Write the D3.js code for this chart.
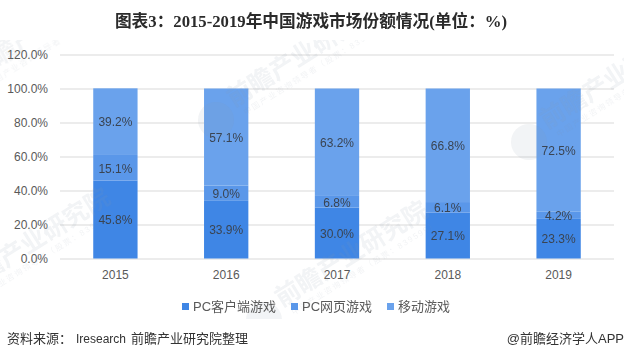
<!DOCTYPE html>
<html>
<head>
<meta charset="utf-8">
<script src="https://cdn.jsdelivr.net/npm/d3@7"></script>
<style>
  html, body { margin: 0; padding: 0; background: #fff; }
  text { font-family: "Liberation Sans", "Noto Sans CJK SC", sans-serif; }
</style>
</head>
<body>
<div id="d3"></div>
<script>
const years = ["2015", "2016", "2017", "2018", "2019"];
const client = [45.8, 33.9, 30.0, 27.1, 23.3];
const web = [15.1, 9.0, 6.8, 6.1, 4.2];
const mobile = [39.2, 57.1, 63.2, 66.8, 72.5];
const seriesNames = ["PC客户端游戏", "PC网页游戏", "移动游戏"];
const yTicks = [0, 20, 40, 60, 80, 100, 120];

const colors = ["#3f86e5", "#5a97e9", "#6aa2ec"];
const labelColor = "#595959";

const W = 624, H = 358;
const svg = d3.select("#d3").append("svg")
  .attr("width", W).attr("height", H)
  .style("display", "block");

const x = d3.scaleBand().domain(years).range([60, 614])
  .paddingInner(0.6).paddingOuter(0.3);
const y = d3.scaleLinear().domain([0, 120]).range([258.5, 54.5]);

// gridlines + y labels
const yAxis = svg.append("g")
  .attr("transform", "translate(60,0)")
  .call(d3.axisLeft(y).tickValues(yTicks).tickSize(0).tickPadding(12)
    .tickFormat(d => d.toFixed(1) + "%"));
yAxis.select(".domain").remove();
yAxis.selectAll("text").attr("font-size", 12).attr("fill", labelColor);
yAxis.selectAll(".tick line")
  .attr("x2", 554).attr("stroke", "#d9d9d9").attr("stroke-width", 1);

// x labels
const xAxis = svg.append("g")
  .attr("transform", "translate(0,258.5)")
  .call(d3.axisBottom(x).tickSize(0).tickPadding(12));
xAxis.select(".domain").remove();
xAxis.selectAll("text").attr("font-size", 12).attr("fill", labelColor);

// stacked bars
const rows = years.map((year, i) => ({ year, a: client[i], b: web[i], c: mobile[i] }));
const stacked = d3.stack().keys(["a", "b", "c"])(rows);

svg.append("g").selectAll("g")
  .data(stacked)
  .join("g")
  .attr("fill", (d, i) => colors[i])
  .selectAll("rect")
  .data(d => d)
  .join("rect")
  .attr("x", d => x(d.data.year))
  .attr("y", d => y(d[1]))
  .attr("width", x.bandwidth())
  .attr("height", d => y(d[0]) - y(d[1]));

// watermarks, cut off above the title area and below the legend like the source image
svg.append("clipPath").attr("id", "wm-clip")
  .append("rect").attr("x", 0).attr("y", 40).attr("width", W).attr("height", 279);

// position of the first big character of each stamp
const marks = [
  { cx: 240, cy: 93 },
  { cx: 288, cy: 293 },
  { cx: 553, cy: 115 },
  { cx: -30, cy: 280 },
  { cx: -17, cy: 65 }
];
const wm = svg.append("g").attr("clip-path", "url(#wm-clip)")
  .attr("fill", "#8a97a8").attr("opacity", 0.11);
marks.forEach(m => {
  wm.append("circle").attr("cx", m.cx - 24).attr("cy", m.cy + 27).attr("r", 18);
  const g = wm.append("g").attr("transform", `translate(${m.cx},${m.cy}) rotate(-32)`);
  g.append("text")
    .attr("x", -13).attr("dy", "0.36em")
    .attr("font-size", 25).attr("font-weight", 700)
    .text("前瞻产业研究院");
  g.append("text")
    .attr("x", -7).attr("y", 22)
    .attr("font-size", 8).attr("letter-spacing", 1.6)
    .text("中国产业咨询领导者（股票：839599）");
});

// value labels on top of the watermark
svg.append("g").selectAll("g")
  .data(stacked)
  .join("g")
  .selectAll("text")
  .data(d => d.map(v => ({ v, val: v[1] - v[0] })))
  .join("text")
  .attr("x", d => x(d.v.data.year) + x.bandwidth() / 2)
  .attr("y", d => y((d.v[0] + d.v[1]) / 2))
  .attr("dy", "0.4em")
  .attr("text-anchor", "middle")
  .attr("font-size", 12)
  .attr("fill", "#3a4452")
  .text(d => d.val.toFixed(1) + "%");

// legend
const legendX = [182, 291, 387];
const legend = svg.append("g").selectAll("g")
  .data(seriesNames)
  .join("g")
  .attr("transform", (d, i) => `translate(${legendX[i]},306.5)`);
legend.append("rect")
  .attr("y", -3.5).attr("width", 7).attr("height", 7)
  .attr("fill", (d, i) => colors[i]);
legend.append("text")
  .attr("x", 11).attr("dy", "0.36em")
  .attr("font-size", 13).attr("fill", labelColor)
  .text(d => d);

// title and footer
svg.append("text")
  .attr("x", 311).attr("y", 27)
  .attr("text-anchor", "middle")
  .attr("font-size", 16.7).attr("font-weight", 700)
  .attr("fill", "#2b2b2b")
  .style("font-family", '"Liberation Serif", "Noto Sans CJK SC", serif')
  .text("图表3：2015-2019年中国游戏市场份额情况(单位：%)");

const source = svg.append("text")
  .attr("y", 343)
  .attr("font-size", 13).attr("fill", "#333");
source.append("tspan").attr("x", 7).text("资料来源：");
source.append("tspan").attr("x", 76).attr("font-size", 12).text("Iresearch");
source.append("tspan").attr("x", 131).text("前瞻产业研究院整理");

svg.append("text")
  .attr("x", 624).attr("y", 343)
  .attr("text-anchor", "end")
  .attr("font-size", 13).attr("fill", "#333")
  .text("@前瞻经济学人APP");
</script>
</body>
</html>
